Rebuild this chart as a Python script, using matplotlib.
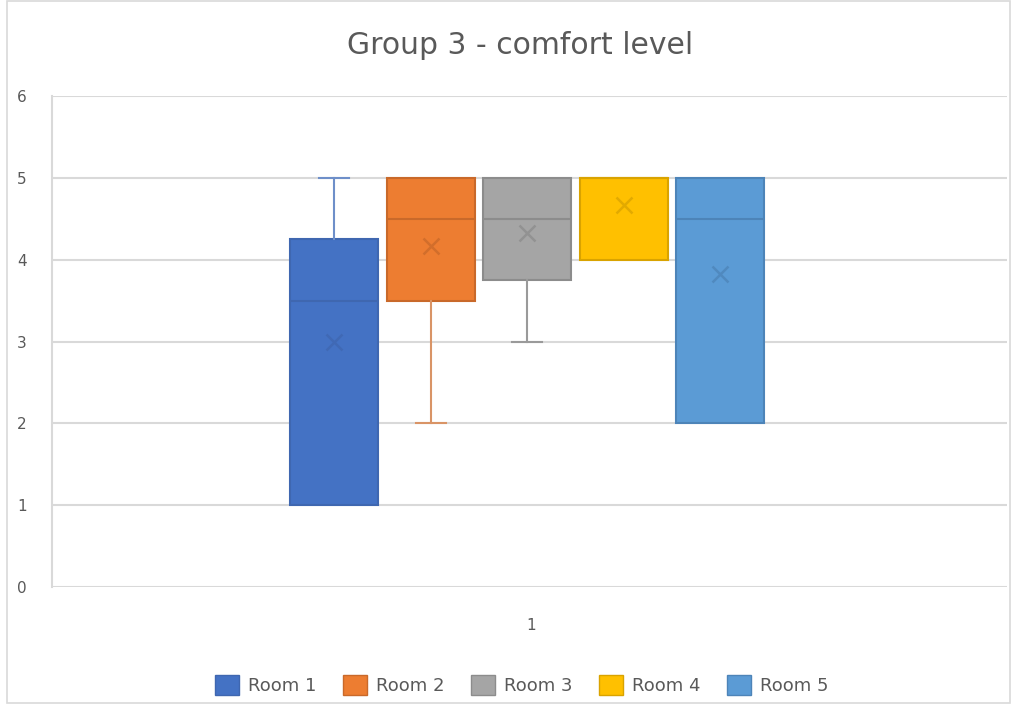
import matplotlib.pyplot as plt
from matplotlib.patches import Patch, Rectangle

# Box stats
rooms = ['Room 1', 'Room 2', 'Room 3', 'Room 4', 'Room 5']
whislo = [1, 2, 3, 4, 2]
q1 = [1, 3.5, 3.75, 4, 2]
med = [3.5, 4.5, 4.5, 5, 4.5]
q3 = [4.25, 5, 5, 5, 5]
whishi = [5, 5, 5, 5, 5]
means = [3.0, 4.17, 4.33, 4.67, 3.83]

fills = ['#4472C4', '#ED7D31', '#A5A5A5', '#FFC000', '#5B9BD5']
edges = ['#3F67B0', '#C9692A', '#8C8C8C', '#D9A300', '#4D84B8']
whisk = ['#6E8FC9', '#D99466', '#9A9A9A', '#D9A300', '#7FA9D4']

fig = plt.figure(figsize=(10.17, 7.04), dpi=100)
ax = fig.add_axes([52 / 1017, 117 / 704, 955 / 1017, 491 / 704])

# outer chart border
fig.patches.append(Rectangle((7 / 1017, 0.002), 1 - 14 / 1017, 0.996, transform=fig.transFigure,
                             fill=False, edgecolor='#D9D9D9', lw=1.2))

positions = [334, 431, 527, 624, 720]
for i in range(len(rooms)):
    st = [dict(whislo=whislo[i], q1=q1[i], med=med[i], q3=q3[i], whishi=whishi[i],
               mean=means[i], fliers=[])]
    art = ax.bxp(st, positions=[positions[i]], widths=88, patch_artist=True, showmeans=True,
                 boxprops=dict(facecolor=fills[i], edgecolor=edges[i], lw=1.5),
                 medianprops=dict(color=edges[i], lw=1.5),
                 whiskerprops=dict(color=whisk[i], lw=1.5),
                 capprops=dict(color=whisk[i], lw=1.5),
                 capwidths=30,
                 meanprops=dict(marker='x', markeredgecolor=edges[i], markersize=12, mew=1.8, alpha=0.75))
    # no caps where the whisker sits on the box edge
    if whislo[i] == q1[i]:
        art['caps'][0].set_visible(False)
    if whishi[i] == q3[i]:
        art['caps'][1].set_visible(False)

ax.set_xlim(52, 1007)
ax.set_ylim(0, 6)
ax.set_yticks(range(0, 7))
ax.set_xticks([531])
ax.set_xticklabels(['1'])
ax.yaxis.grid(True, color='#D9D9D9', lw=1.5)
ax.set_axisbelow(True)
for s in ['top', 'right', 'bottom']:
    ax.spines[s].set_visible(False)
ax.spines['left'].set_color('#D9D9D9')
ax.spines['left'].set_linewidth(1.5)
ax.tick_params(axis='both', length=0, colors='#595959', labelsize=11)
ax.tick_params(axis='y', pad=18)
ax.tick_params(axis='x', pad=22)

fig.text(0.511, 0.935, 'Group 3 - comfort level', ha='center', va='center',
         fontsize=21.5, color='#595959')

handles = [Patch(facecolor=fills[i], edgecolor=edges[i], label=rooms[i]) for i in range(len(rooms))]
fig.legend(handles=handles, loc='center', bbox_to_anchor=(0.513, 0.027), ncol=5, frameon=False,
           fontsize=13, labelcolor='#595959', handlelength=1.3, handleheight=1.3,
           columnspacing=1.5, handletextpad=0.5)

fig.savefig('out.png', dpi=100)
